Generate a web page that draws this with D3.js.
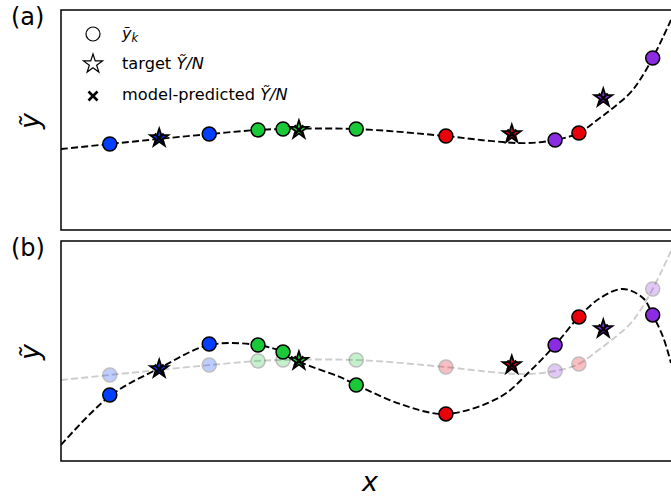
<!DOCTYPE html>
<html><head><meta charset="utf-8">
<script src="https://cdn.jsdelivr.net/npm/d3@7"></script>
<style>body{margin:0;background:#fff}svg{display:block}text{font-family:"DejaVu Sans",sans-serif}</style>
</head><body>
<svg id="c" width="671" height="497"></svg>
<script>
// ---- data ----
const groupColors = {blue:"#023eff", green:"#1ac938", red:"#e8000b", purple:"#8b2be2"};
const pointX     = [0.80, 2.43, 3.23, 3.64, 4.84, 6.31, 8.10, 8.49, 9.70];
const pointGroup = ["blue","blue","green","green","green","red","purple","red","purple"];
const pointYa    = [3.91, 4.36, 4.55, 4.59, 4.59, 4.27, 4.09, 4.41, 7.82];
const pointYb    = [3.00, 5.32, 5.27, 4.95, 3.45, 2.14, 5.27, 6.55, 6.64];
const starX      = [1.61, 3.90, 7.39, 8.89];
const starGroup  = ["blue","green","red","purple"];
const starY      = [4.18, 4.55, 4.36, 6.00];
const predXa     = [1.61, 3.90, 7.39, 8.89];
const predYa     = [4.18, 4.55, 4.36, 6.00];
const predXb     = [1.61, 3.90, 7.39, 8.89];
const predYb     = [4.18, 4.55, 4.36, 6.00];
const curveAx = [0, 0.80, 1.61, 2.43, 3.23, 3.64, 4.84, 6.31, 7.03, 7.61, 8.10, 8.49, 8.79, 9.05, 9.33, 9.49, 9.70, 9.87, 10];
const curveAy = [3.68, 3.91, 4.14, 4.36, 4.55, 4.59, 4.59, 4.27, 4.05, 3.95, 4.09, 4.41, 5.00, 5.55, 6.23, 6.82, 7.82, 8.77, 9.55];
const curveBx = [0, 0.80, 1.62, 2.43, 3.23, 3.64, 3.92, 4.57, 4.85, 5.56, 6.31, 7.20, 7.69, 8.10, 8.49, 8.84, 9.21, 9.54, 9.70, 9.87, 10];
const curveBy = [0.73, 2.95, 4.23, 5.27, 5.27, 4.95, 4.50, 3.82, 3.45, 2.59, 2.14, 2.91, 4.09, 5.27, 6.55, 7.41, 7.82, 7.41, 6.64, 5.64, 4.45];
const legendLabels = ["target", "model-predicted"];

// ---- layout ----
const svg = d3.select("#c");
const L = 61, R = 671, W = 612;
const x = d3.scaleLinear().domain([0,10]).range([L, R]);
const panels = [{top:10, label:"(a)"}, {top:241, label:"(b)"}];
const H = 220;
const DASH = "7,3.2", LW = 1.9;

function starPath(Ro){
  const ri = Ro*0.381966, pts=[];
  for(let i=0;i<10;i++){
    const a = -Math.PI/2 + i*Math.PI/5, r = i%2===0?Ro:ri;
    pts.push([r*Math.cos(a), r*Math.sin(a)]);
  }
  return "M"+pts.map(p=>p[0].toFixed(2)+","+p[1].toFixed(2)).join("L")+"Z";
}
function drawX(g, cx, cy, s, sw){
  g.append("path").attr("d",`M${cx-s},${cy-s}L${cx+s},${cy+s}M${cx-s},${cy+s}L${cx+s},${cy-s}`)
    .attr("stroke","#000").attr("stroke-width",sw).attr("fill","none");
}

panels.forEach((p,pi)=>{
  const y = d3.scaleLinear().domain([0,10]).range([p.top+H, p.top]);
  const clipId = "clip"+pi;
  svg.append("clipPath").attr("id",clipId).append("rect").attr("x",L).attr("y",p.top).attr("width",W).attr("height",H);
  const g = svg.append("g");
  const pg = g.append("g").attr("clip-path",`url(#${clipId})`);
  const line = d3.line().x(d=>x(d[0])).y(d=>y(d[1])).curve(d3.curveCatmullRom.alpha(0.5));
  const dataA = curveAx.map((v,i)=>[v,curveAy[i]]);
  const dataB = curveBx.map((v,i)=>[v,curveBy[i]]);
  if(pi===0){
    pg.append("path").attr("d",line(dataA)).attr("fill","none").attr("stroke","#000")
      .attr("stroke-width",LW).attr("stroke-dasharray",DASH);
    pointX.forEach((v,i)=>{
      pg.append("circle").attr("cx",x(v)).attr("cy",y(pointYa[i])).attr("r",7)
        .attr("fill",groupColors[pointGroup[i]]).attr("stroke","#000").attr("stroke-width",1.5);
    });
  } else {
    pg.append("path").attr("d",line(dataA)).attr("fill","none").attr("stroke","#000").attr("stroke-opacity",0.2)
      .attr("stroke-width",LW).attr("stroke-dasharray",DASH);
    pointX.forEach((v,i)=>{
      pg.append("circle").attr("cx",x(v)).attr("cy",y(pointYa[i])).attr("r",7)
        .attr("fill",groupColors[pointGroup[i]]).attr("stroke","#000").attr("stroke-width",1.5).attr("opacity",0.25);
    });
    pg.append("path").attr("d",line(dataB)).attr("fill","none").attr("stroke","#000")
      .attr("stroke-width",LW).attr("stroke-dasharray",DASH);
    pointX.forEach((v,i)=>{
      pg.append("circle").attr("cx",x(v)).attr("cy",y(pointYb[i])).attr("r",7)
        .attr("fill",groupColors[pointGroup[i]]).attr("stroke","#000").attr("stroke-width",1.5);
    });
  }
  starX.forEach((v,i)=>{
    pg.append("path").attr("d",starPath(9.5)).attr("transform",`translate(${x(v)},${y(starY[i])})`)
      .attr("fill",groupColors[starGroup[i]]).attr("stroke","#000").attr("stroke-width",1.8).attr("stroke-linejoin","miter");
  });
  const px = pi===0?predXa:predXb, py = pi===0?predYa:predYb;
  px.forEach((v,i)=> drawX(pg, x(v), y(py[i]), 4.5, 2.4));
  // frame
  g.append("rect").attr("x",L).attr("y",p.top).attr("width",W+4).attr("height",H)
    .attr("fill","none").attr("stroke","#000").attr("stroke-width",1.5);
  // panel label
  g.append("text").attr("x",11).attr("y",p.top+15).attr("font-size",24).text(p.label);
  // y label
  g.append("text").attr("transform",`translate(39,${p.top+111}) rotate(-90)`).attr("text-anchor","middle")
    .attr("font-size",27).attr("font-style","italic").text("ỹ");
});

// x label
svg.append("text").attr("x",370).attr("y",491).attr("text-anchor","middle").attr("font-size",27)
  .attr("font-style","italic").text("x");

// legend
const lg = svg.append("g");
lg.append("circle").attr("cx",93).attr("cy",34).attr("r",7).attr("fill","#fff").attr("stroke","#000").attr("stroke-width",1.2);
const t1 = lg.append("text").attr("x",122).attr("y",39).attr("font-size",16);
t1.append("tspan").attr("font-style","italic").text("ỹ");
t1.append("tspan").attr("font-style","italic").attr("font-size",11.5).attr("dy",3).text("k");
lg.append("path").attr("d",starPath(10)).attr("transform","translate(93,64)").attr("fill","#fff").attr("stroke","#000").attr("stroke-width",1.2);
const t2 = lg.append("text").attr("x",122).attr("y",69).attr("font-size",16.2);
t2.append("tspan").text(legendLabels[0]+" ");
t2.append("tspan").attr("font-style","italic").text("Ỹ/N");
drawX(lg, 93, 96, 4.5, 2.6);
const t3 = lg.append("text").attr("x",122).attr("y",100).attr("font-size",16.2);
t3.append("tspan").text(legendLabels[1]+" ");
t3.append("tspan").attr("font-style","italic").text("Ỹ/N");
</script>
</body></html>
